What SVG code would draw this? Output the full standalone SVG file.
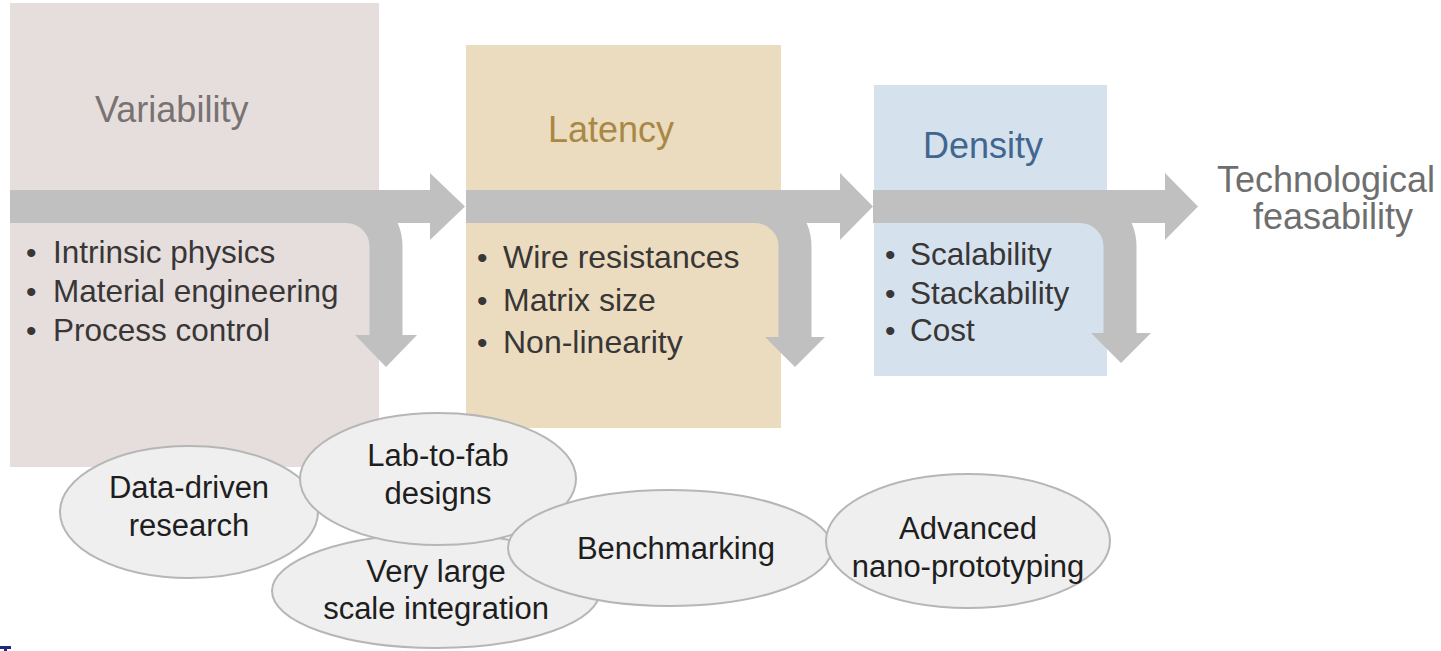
<svg xmlns="http://www.w3.org/2000/svg" width="1441" height="651" viewBox="0 0 1441 651">
<style>
text{font-family:"Liberation Sans",Arial,sans-serif}
.title{font-size:36px}
.item{font-size:31.5px;fill:#383636}
.bul{font-size:30px;fill:#383636}
.ell{fill:#efefef;stroke:#b6b6b6;stroke-width:2}
.etxt{font-size:31px;fill:#1e1e1e;text-anchor:middle}
.band{fill:#c0c0c0}
.branch{fill:none;stroke:#c0c0c0;stroke-width:33}
</style>
<rect width="1441" height="651" fill="#ffffff"/>
<g id="variability">
<rect x="10" y="3" width="369" height="464" fill="#e6dedc"/>
<text class="title" x="95" y="122" fill="#797272">Variability</text>
</g>
<g id="latency">
<rect x="466" y="45" width="315" height="383" fill="#ebdcbf"/>
<text class="title" x="548" y="142" fill="#a98744">Latency</text>
</g>
<g id="density">
<rect x="874" y="85" width="233" height="291" fill="#d5e2ee"/>
<text class="title" x="923" y="158" fill="#41678e">Density</text>
</g>
<g id="connectors">
<path class="band" d="M10 190 H430 V173 L465 206.5 L430 240 V223 H10 Z"/>
<path class="band" d="M466 190 H840 V173 L873 206.5 L840 240 V223 H466 Z"/>
<path class="band" d="M873 190 H1165 V173 L1198 206.5 L1165 240 V223 H873 Z"/>
<path class="branch" d="M340 206.5 H346 A40 40 0 0 1 386 246.5 V336"/>
<path class="band" d="M355 335 H417 L386 367 Z"/>
<path class="branch" d="M749 206.5 H755 A40 40 0 0 1 795 246.5 V338"/>
<path class="band" d="M765 337 H825 L795 367 Z"/>
<path class="branch" d="M1074 206.5 H1080 A40 40 0 0 1 1120 246.5 V334"/>
<path class="band" d="M1091 333 H1151 L1121 363 Z"/>
</g>
<g id="variability-list">
<text class="bul" x="26" y="263">•</text><text class="item" x="53" y="263">Intrinsic physics</text>
<text class="bul" x="26" y="302">•</text><text class="item" x="53" y="302">Material engineering</text>
<text class="bul" x="26" y="341">•</text><text class="item" x="53" y="341">Process control</text>
</g>
<g id="latency-list">
<text class="bul" x="477" y="268">•</text><text class="item" x="503" y="268" style="font-size:32px">Wire resistances</text>
<text class="bul" x="477" y="311">•</text><text class="item" x="503" y="311" style="font-size:32px">Matrix size</text>
<text class="bul" x="477" y="353">•</text><text class="item" x="503" y="353" style="font-size:32px">Non-linearity</text>
</g>
<g id="density-list">
<text class="bul" x="885" y="265">•</text><text class="item" x="910" y="265">Scalability</text>
<text class="bul" x="885" y="304">•</text><text class="item" x="910" y="304">Stackability</text>
<text class="bul" x="885" y="341">•</text><text class="item" x="910" y="341">Cost</text>
</g>
<g id="feasability">
<text class="title" x="1326" y="192" fill="#6e6e6e" text-anchor="middle">Technological</text>
<text class="title" x="1333" y="229" fill="#6e6e6e" text-anchor="middle">feasability</text>
</g>
<g id="data-driven">
<ellipse class="ell" cx="189" cy="512" rx="129" ry="66"/>
<text class="etxt" x="189" y="498">Data-driven</text>
<text class="etxt" x="189" y="536">research</text>
</g>
<g id="very-large">
<ellipse class="ell" cx="436" cy="591" rx="164" ry="57"/>
<text class="etxt" x="436" y="582">Very large</text>
<text class="etxt" x="436" y="619">scale integration</text>
</g>
<g id="lab-to-fab">
<ellipse class="ell" cx="438" cy="479" rx="138" ry="66"/>
<text class="etxt" x="438" y="466">Lab-to-fab</text>
<text class="etxt" x="438" y="504">designs</text>
</g>
<g id="benchmarking">
<ellipse class="ell" cx="670" cy="548" rx="162" ry="58"/>
<text class="etxt" x="676" y="559">Benchmarking</text>
</g>
<g id="advanced">
<ellipse class="ell" cx="968" cy="541" rx="142" ry="67"/>
<text class="etxt" x="968" y="539">Advanced</text>
<text class="etxt" x="968" y="577">nano-prototyping</text>
</g>
<g id="corner-mark">
<rect x="0" y="646" width="11" height="3" fill="#1f2a7a"/>
<rect x="4" y="646" width="3" height="5" fill="#1f2a7a"/>
</g>
</svg>
